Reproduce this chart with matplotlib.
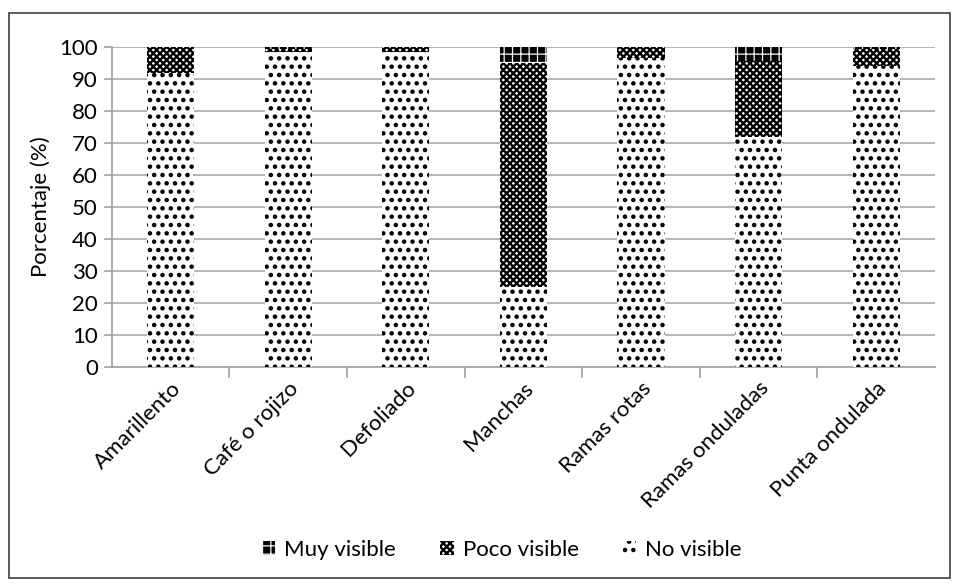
import numpy as np
import matplotlib.pyplot as plt
from matplotlib.patches import Rectangle

plt.rcParams['font.family'] = ['Lato', 'DejaVu Sans']

# Datos del grafico
categorias = ['Amarillento', 'Café o rojizo', 'Defoliado', 'Manchas',
              'Ramas rotas', 'Ramas onduladas', 'Punta ondulada']
no_visible = [92, 98.5, 98.5, 25, 96.5, 72, 94]
poco_visible = [8, 1, 1.5, 70, 3.5, 23.5, 5.5]
muy_visible = [0, 0.5, 0, 5, 0, 4.5, 0.5]

fig = plt.figure(figsize=(9.56, 5.84), dpi=100)
ax = fig.add_axes([0.117, 0.3716, 0.861, 0.548])

x = np.arange(len(categorias))
ancho = 0.4
no_v = np.array(no_visible)
poco_v = np.array(poco_visible)
muy_v = np.array(muy_visible)

b1 = ax.bar(x, no_v, ancho, color='white', edgecolor='black', hatch='..',
            linewidth=0, label='No visible', zorder=3)
b2 = ax.bar(x, poco_v, ancho, bottom=no_v, color='white', edgecolor='black',
            hatch='xxxxx', linewidth=0, label='Poco visible', zorder=3)
b3 = ax.bar(x, muy_v, ancho, bottom=no_v + poco_v, color='black', edgecolor='white',
            hatch='++', linewidth=0, label='Muy visible', zorder=3)

# grosor del patron por serie
for barras, lw in [(b1, 2.0), (b2, 1.7), (b3, 0.9)]:
    for p in barras:
        p.set_hatch_linewidth(lw)

ax.set_ylim(0, 100)
ax.set_xlim(-0.5, len(categorias) - 0.5)
ax.set_yticks(np.arange(0, 101, 10))
ax.yaxis.grid(True, color='#b0b0b0', linewidth=1.3, zorder=0)
ax.set_axisbelow(True)

for lado in ['top', 'right']:
    ax.spines[lado].set_visible(False)
for lado in ['left', 'bottom']:
    ax.spines[lado].set_color('#a6a6a6')
    ax.spines[lado].set_linewidth(1.3)

fs = 16
ax.set_xticks(x)
ax.set_xticklabels(categorias, rotation=45, ha='right', rotation_mode='anchor',
                   fontsize=fs)
ax.tick_params(axis='x', length=0, pad=8)
ax.set_xticks(np.arange(0.5, len(categorias) - 1, 1), minor=True)
ax.tick_params(axis='x', which='minor', length=8, color='#a6a6a6', width=1.3)
ax.tick_params(axis='y', length=6, color='#a6a6a6', width=1.3, labelsize=fs,
               pad=4)
ax.set_ylabel('Porcentaje (%)', fontsize=fs, labelpad=6)

handles, labels = ax.get_legend_handles_labels()
leg = fig.legend(handles[::-1], labels[::-1], loc='center', ncol=3,
                 bbox_to_anchor=(0.525, 0.058), frameon=False, fontsize=fs,
                 handlelength=0.6, handleheight=0.6, columnspacing=2.0,
                 handletextpad=0.4)
for h, lw in zip(leg.get_patches(), [0.9, 1.7, 2.0]):
    h.set_hatch_linewidth(lw)

fig.patches.append(Rectangle((0.009, 0.01), 0.985, 0.968, transform=fig.transFigure,
                             fill=False, edgecolor='#404040', linewidth=1.2))

fig.savefig('out.png', dpi=100)
